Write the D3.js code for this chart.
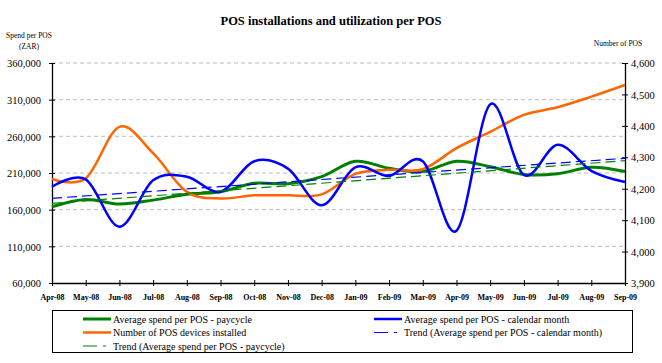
<!DOCTYPE html>
<html><head><meta charset="utf-8">
<script src="https://cdn.jsdelivr.net/npm/d3@7/dist/d3.min.js"></script>
<style>
body{margin:0;background:#fff;}
text{font-family:"Liberation Serif","Times New Roman",serif;fill:#000;}
</style></head>
<body><svg id="chart" width="662" height="363"></svg>
<script>
const months = ["Apr-08","May-08","Jun-08","Jul-08","Aug-08","Sep-08","Oct-08","Nov-08","Dec-08","Jan-09","Feb-09","Mar-09","Apr-09","May-09","Jun-09","Jul-09","Aug-09","Sep-09"];
const spendPaycycle = [164000,174000,167700,173000,181000,184500,196000,195500,205000,226000,216400,212000,226000,218600,208000,209000,217800,212000];
const spendCalendar = [191300,201400,136800,200000,205000,184500,226000,216000,166000,217800,206000,226000,131300,303600,207300,248600,213000,197700];
const posDevices = [4231,4233,4397,4313,4190,4169,4179,4179,4182,4247,4260,4262,4329,4381,4435,4459,4493,4530];
const trendCalendar = [175500,230000];   // start (Apr-08), end (Sep-09)
const trendPaycycle = [168700,226800];
const leftTicks = [60000,110000,160000,210000,260000,310000,360000];
const rightTicks = [3900,4000,4100,4200,4300,4400,4500,4600];

const svg = d3.select("#chart");
svg.append("rect").attr("width",662).attr("height",363).attr("fill","#fff");
const L=52,R=625,T=63,B=283;
const x = d3.scalePoint().domain(months).range([L,R]);
const yL = d3.scaleLinear().domain([60000,360000]).range([B,T]);
const yR = d3.scaleLinear().domain([3900,4600]).range([B,T]);

// title
svg.append("text").attr("x",331).attr("y",25).attr("text-anchor","middle")
  .attr("font-weight","bold").attr("font-size","12.5px").text("POS installations and utilization per POS");
svg.append("text").attr("x",29).attr("y",38).attr("text-anchor","middle").attr("font-size","7.5px").text("Spend per POS");
svg.append("text").attr("x",29).attr("y",49).attr("text-anchor","middle").attr("font-size","7.5px").text("(ZAR)");
svg.append("text").attr("x",618).attr("y",46).attr("text-anchor","middle").attr("font-size","7.5px").text("Number of POS");

// gridlines
svg.append("g").selectAll("line").data(leftTicks.filter(d=>d>60000)).join("line")
  .attr("x1",L).attr("x2",R).attr("y1",d=>yL(d)).attr("y2",d=>yL(d))
  .attr("stroke","#bdbdbd").attr("stroke-width",1).attr("stroke-dasharray","4,3");

// axes
const fmt = d3.format(",");
const gl = svg.append("g").attr("transform",`translate(${L},0)`)
  .call(d3.axisLeft(yL).tickValues(leftTicks).tickFormat(fmt).tickSizeInner(3).tickSizeOuter(0).tickPadding(8));
gl.selectAll(".tick line").attr("x2",3).attr("x1",-3).attr("stroke","#000");
gl.select(".domain").attr("stroke","#000").attr("stroke-width",1.3);
gl.selectAll("text").attr("font-size","10.5px").attr("font-family","Liberation Serif, serif").attr("dy","0.35em");

const gr = svg.append("g").attr("transform",`translate(${R},0)`)
  .call(d3.axisRight(yR).tickValues(rightTicks).tickFormat(fmt).tickSizeInner(3).tickSizeOuter(0).tickPadding(3));
gr.selectAll(".tick line").attr("x1",-3).attr("x2",3).attr("stroke","#000");
gr.select(".domain").attr("stroke","#000").attr("stroke-width",1.3);
gr.selectAll("text").attr("font-size","10.5px").attr("font-family","Liberation Serif, serif").attr("dy","0.35em");

const gb = svg.append("g").attr("transform",`translate(0,${B})`)
  .call(d3.axisBottom(x).tickSizeInner(3).tickSizeOuter(0).tickPadding(8));
gb.selectAll(".tick line").attr("y1",-3).attr("y2",3).attr("stroke","#000");
gb.select(".domain").attr("stroke","#000").attr("stroke-width",1.3);
gb.selectAll("text").attr("font-size","8px").attr("font-weight","bold").attr("font-family","Liberation Serif, serif");

// lines
const curve = d3.curveCatmullRom.alpha(0);
const lineL = d3.line().x((d,i)=>x(months[i])).y(d=>yL(d)).curve(curve);
const lineR = d3.line().x((d,i)=>x(months[i])).y(d=>yR(d)).curve(curve);
const plot = svg.append("g");
plot.append("path").attr("d",lineL(spendPaycycle)).attr("fill","none").attr("stroke","#008000").attr("stroke-width",3);
plot.append("path").attr("d",lineR(posDevices)).attr("fill","none").attr("stroke","#FF6600").attr("stroke-width",2.5);
plot.append("path").attr("d",lineL(spendCalendar)).attr("fill","none").attr("stroke","#0000FF").attr("stroke-width",2.5);

const trendLine = d3.line().x((d,i)=>i===0?x(months[0]):x(months[months.length-1])).y(d=>yL(d));
plot.append("path").attr("d",trendLine(trendPaycycle)).attr("fill","none").attr("stroke","#008000").attr("stroke-width",1.2).attr("stroke-dasharray","10,5");
plot.append("path").attr("d",trendLine(trendCalendar)).attr("fill","none").attr("stroke","#0000FF").attr("stroke-width",1.2).attr("stroke-dasharray","10,5");

// legend
svg.append("rect").attr("x",52.5).attr("y",310.5).attr("width",580).attr("height",42)
  .attr("fill","#fff").attr("stroke","#000").attr("stroke-width",1);
const legendItems = [
  {label:"Average spend per POS - paycycle", color:"#008000", w:3, dash:null, col:0, row:0},
  {label:"Average spend per POS - calendar month", color:"#0000FF", w:2.5, dash:null, col:1, row:0},
  {label:"Number of POS devices installed", color:"#FF6600", w:2.5, dash:null, col:0, row:1},
  {label:"Trend (Average spend per POS - calendar month)", color:"#0000FF", w:1.2, dash:"14,6,3,40", col:1, row:1},
  {label:"Trend (Average spend per POS - paycycle)", color:"#008000", w:1.2, dash:"14,6,3,40", col:0, row:2}
];
const colX=[83,374];
const lg = svg.append("g").selectAll("g").data(legendItems).join("g")
  .attr("transform",d=>`translate(${colX[d.col]},${319+d.row*13.5})`);
lg.append("line").attr("x1",0).attr("x2",28).attr("y1",0).attr("y2",0)
  .attr("stroke",d=>d.color).attr("stroke-width",d=>d.w).attr("stroke-dasharray",d=>d.dash);
lg.append("text").attr("x",30).attr("y",0).attr("dy","0.35em").attr("font-size","10px").text(d=>d.label);
</script></body></html>
